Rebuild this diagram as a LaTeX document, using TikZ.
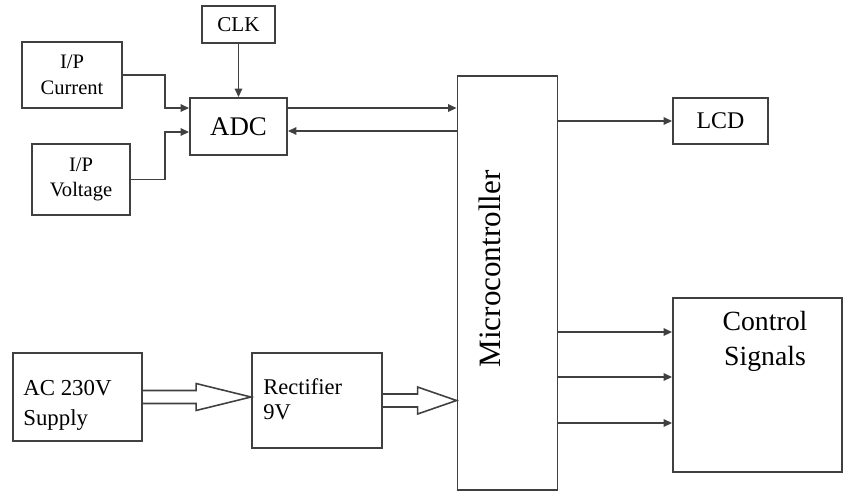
\documentclass[tikz,border=0pt]{standalone}
\usepackage{fontspec}
\setmainfont{Liberation Serif}
\usetikzlibrary{arrows.meta,calc}
\tikzset{
  blk/.style={draw=black!75, line width=1.1pt, inner sep=0pt, align=center},
  sig/.style={draw=black!75, line width=0.9pt, -{Triangle[length=1.7mm,width=1.5mm]}},
  pwr/.style={draw=black!75, line width=0.9pt, line join=miter},
  txt/.style={inner sep=0pt, align=left},
}
% hollow power arrow: from, to, head length
\newcommand{\pwrarrow}[3]{%
  \draw[pwr] let \p1=(#1.east), \p2=(#2.west) in
    (\x1,\y1+0.13cm) -- (\x2-#3,\y1+0.13cm) -- (\x2-#3,\y1+0.27cm) -- (\x2,\y1)
    -- (\x2-#3,\y1-0.27cm) -- (\x2-#3,\y1-0.13cm) -- (\x1,\y1-0.13cm);}

\begin{document}
\begin{tikzpicture}[x=0.02cm, y=-0.02cm]
\useasboundingbox (0,0) rectangle (843,495);

% input side
\node[blk, minimum width=1.46cm, minimum height=0.74cm, font=\fontsize{12}{15}\selectfont] (clk) at (238.5,24.5) {CLK};
\node[blk, minimum width=2.0cm, minimum height=1.32cm, font=\fontsize{11.7}{14.7}\selectfont] (cur) at (72,75) {I/P\\Current};
\node[blk, minimum width=1.94cm, minimum height=1.14cm, font=\fontsize{15.3}{19}\selectfont] (adc) at (238.5,126.5) {ADC};
\node[blk, minimum width=1.96cm, minimum height=1.42cm, font=\fontsize{11.7}{14.7}\selectfont] (volt) at (81,179.5) {I/P\\Voltage};

% controller and outputs
\node[blk, minimum width=2.0cm, minimum height=8.28cm] (mcu) at (507.5,283) {};
\node[rotate=90, inner sep=0pt, font=\fontsize{17.7}{22}\selectfont] (mcutxt) at ([xshift=-0.35cm, yshift=0.28cm]mcu.center) {Microcontroller};
\node[blk, minimum width=1.9cm, minimum height=0.92cm, font=\fontsize{13.6}{17}\selectfont] (lcd) at (720.5,121) {LCD};
\node[blk, minimum width=3.38cm, minimum height=3.48cm] (ctrl) at (757.5,385) {};
\node[txt, align=center, anchor=north, font=\fontsize{15.8}{19.8}\selectfont] (ctrltxt) at ([xshift=0.15cm, yshift=-0.28cm]ctrl.north) {Control\\Signals};

% power side
\node[blk, minimum width=2.58cm, minimum height=1.76cm] (ac) at (77.5,397) {};
\node[txt, anchor=north west, font=\fontsize{13}{17}\selectfont] (actxt) at (23,380) {AC 230V\\Supply};
\node[blk, minimum width=2.6cm, minimum height=1.9cm] (rect) at (317,400.5) {};
\node[txt, anchor=north west, font=\fontsize{12.8}{14.2}\selectfont] (recttxt) at (263,378) {Rectifier\\9V};

% signal lines
\draw[sig] (clk.south) -- (adc.north);
\draw[sig] (cur.east) -- ++(42,0) |- ([yshift=0.37cm]adc.west);
\draw[sig] (volt.east) -- ++(34,0) |- ([yshift=-0.11cm]adc.west);
\path ([yshift=0.37cm]adc.east) coordinate (ato) ([yshift=-0.09cm]adc.east) coordinate (afrom);
\draw[sig] (ato) -- (ato -| mcu.west);
\draw[sig] (afrom -| mcu.west) -- (afrom);
\draw[sig] (mcu.east |- lcd.west) -- (lcd.west);
\foreach \dy in {1.06,0.16,-0.76} {
  \path ([yshift=\dy cm]ctrl.west) coordinate (cin);
  \draw[sig] (cin -| mcu.east) -- (cin);
}

% power arrows
\pwrarrow{ac}{rect}{1.1cm}
\pwrarrow{rect}{mcu}{0.78cm}
\end{tikzpicture}
\end{document}
